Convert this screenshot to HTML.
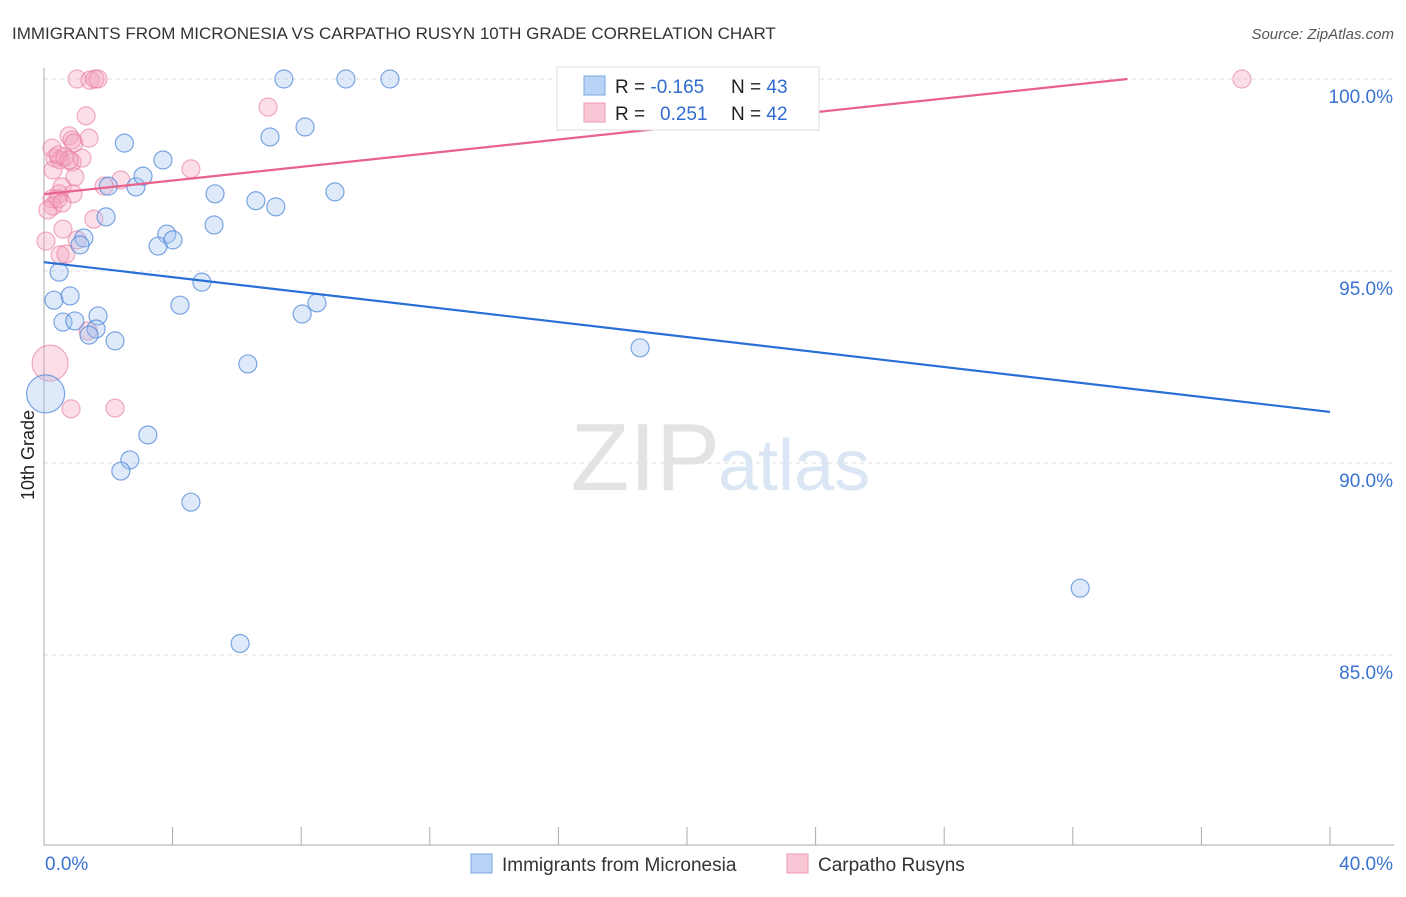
<!DOCTYPE html>
<html><head><meta charset="utf-8">
<style>
body{margin:0;background:#fff;font-family:"Liberation Sans",sans-serif;}
svg text{font-family:"Liberation Sans",sans-serif;}
</style></head>
<body>
<svg id="chart" width="1406" height="892" xmlns="http://www.w3.org/2000/svg">
<text x="12" y="39" font-size="17" fill="#333">IMMIGRANTS FROM MICRONESIA VS CARPATHO RUSYN 10TH GRADE CORRELATION CHART</text>
<text x="1394" y="39" font-size="15" fill="#555" text-anchor="end" font-style="italic">Source: ZipAtlas.com</text>
<g id="grid"></g>
<g id="axes"></g>
<text x="720" y="490" font-size="96" fill="#e3e3e3" text-anchor="end" font-family="Liberation Serif">ZIP</text>
<text x="718" y="490" font-size="72" fill="#dbe6f5">atlas</text>
<g id="points"></g>
<g id="lines"></g>
<text transform="translate(34,455) rotate(-90)" font-size="18" fill="#222" text-anchor="middle">10th Grade</text>
<g>
<rect x="557" y="67" width="262" height="63" fill="#fff" stroke="#ddd"/>
<rect x="584" y="76" width="21" height="19" fill="#b8d3f5" stroke="#7aa7e0"/>
<rect x="584" y="103" width="21" height="19" fill="#f8c6d4" stroke="#ee9ab2"/>
<text x="615" y="93" font-size="19" fill="#222">R = <tspan fill="#2f6bd0">-0.165</tspan><tspan x="731">N = </tspan><tspan fill="#2f6bd0">43</tspan></text>
<text x="615" y="120" font-size="19" fill="#222">R = <tspan x="660" fill="#2f6bd0">0.251</tspan><tspan x="731">N = </tspan><tspan fill="#2f6bd0">42</tspan></text>
</g>
<g>
<rect x="471" y="854" width="21" height="19" fill="#b8d3f5" stroke="#7aa7e0"/>
<text x="502" y="871" font-size="19" fill="#333">Immigrants from Micronesia</text>
<rect x="787" y="854" width="21" height="19" fill="#f8c6d4" stroke="#ee9ab2"/>
<text x="818" y="871" font-size="19" fill="#333">Carpatho Rusyns</text>
</g>
</svg>
<script>
const yTicks=[100,95,90,85];
const yTickLabels=["100.0%","95.0%","90.0%","85.0%"];
const xTickLabels=["0.0%","40.0%"];
const blueX=[2.5,2.0,2.86,3.08,3.7,1.93,1.24,1.12,0.47,0.31,0.81,0.59,0.96,1.68,1.62,1.4,2.21,3.82,3.55,4.01,5.32,5.29,6.59,7.21,7.03,8.12,7.46,9.39,10.76,9.05,4.23,4.91,8.03,8.49,6.34,3.23,2.67,2.39,4.57,6.1,18.54,32.23,0.05];
const blueY=[98.33,97.21,97.19,97.47,97.89,96.41,95.86,95.68,94.97,94.24,94.35,93.67,93.7,93.83,93.49,93.33,93.18,95.96,95.65,95.81,97.01,96.2,96.83,96.67,98.49,98.75,100,100,100,97.06,94.11,94.71,93.88,94.17,92.58,90.73,90.08,89.79,88.98,85.3,93.0,86.74,91.8];
const blueR=[9,9,9,9,9,9,9,9,9,9,9,9,9,9,9,9,9,9,9,9,9,9,9,9,9,9,9,9,9,9,9,9,9,9,9,9,9,9,9,9,9,9,19];
const pinkX=[1.03,1.43,1.59,1.68,6.97,1.31,37.26,0.78,0.87,0.25,0.93,1.4,0.34,0.5,0.65,0.44,0.87,0.28,0.96,2.39,1.87,4.57,0.56,0.47,0.9,0.25,0.28,0.12,0.44,1.55,0.59,1.03,0.06,0.5,0.68,1.37,0.84,2.21,0.19,1.18,0.78,0.56];
const pinkY=[100,99.97,100,100,99.27,99.04,100,98.52,98.41,98.2,98.33,98.46,97.94,97.89,97.97,98.02,97.84,97.63,97.45,97.37,97.21,97.66,97.19,97.01,97.01,96.88,96.69,96.59,96.88,96.35,96.09,95.81,95.78,95.42,95.44,93.44,91.41,91.43,92.6,97.94,97.89,96.77];
const pinkR=[9,9,9,9,9,9,9,9,9,9,9,9,9,9,9,9,9,9,9,9,9,9,9,9,9,9,9,9,9,9,9,9,9,9,9,9,9,9,18,9,9,9];
const blueLineX=[0,40];
const blueLineY=[95.23,91.33];
const pinkLineX=[0,33.7];
const pinkLineY=[97.0,100];

const NS="http://www.w3.org/2000/svg";
const xs=v=>44+v/40*1286;
const ys=v=>79+(100-v)*38.4;
function mk(tag,attrs,parent){const e=document.createElementNS(NS,tag);for(const k in attrs)e.setAttribute(k,attrs[k]);document.getElementById(parent).appendChild(e);return e;}

yTicks.forEach((t,i)=>{
  const g=mk('line',{x1:44,x2:1394,y1:ys(t),y2:ys(t),stroke:'#ddd','stroke-dasharray':'4,4'},'grid');
  
  
  const tx=mk('text',{x:1393,y:ys(t)+24,'font-size':19,fill:'#3b73d1','text-anchor':'end'},'axes');
  tx.textContent=yTickLabels[i];
  
  
});
const ax=mk('line',{x1:44,x2:44,y1:68,y2:845,stroke:'#aaa'},'axes');


const bx=mk('line',{x1:44,x2:1394,y1:845,y2:845,stroke:'#aaa'},'axes');


for(let i=0;i<=10;i++){
  const t=mk('line',{x1:xs(i*4),x2:xs(i*4),y1:827,y2:845,stroke:'#aaa'},'axes');
  
  
}
[[0,'start',45],[40,'end',1393]].forEach((d,i)=>{
  const tx=mk('text',{x:d[2],y:870,'font-size':19,fill:'#3b73d1','text-anchor':d[1]},'axes');
  tx.textContent=xTickLabels[i];
  
  
});
pinkX.forEach((v,i)=>{
  const c=mk('circle',{cx:xs(v),cy:ys(pinkY[i]),r:pinkR[i],fill:'rgba(244,160,188,0.35)',stroke:'rgba(232,120,155,0.6)','stroke-width':1.2},'points');
  
  
});
blueX.forEach((v,i)=>{
  const c=mk('circle',{cx:xs(v),cy:ys(blueY[i]),r:blueR[i],fill:'rgba(160,195,240,0.35)',stroke:'rgba(70,130,215,0.7)','stroke-width':1.2},'points');
  
  
});
const bl=mk('line',{x1:xs(blueLineX[0]),y1:ys(blueLineY[0]),x2:xs(blueLineX[1]),y2:ys(blueLineY[1]),stroke:'#2a6fd6','stroke-width':2.2},'lines');


const pl=mk('line',{x1:xs(pinkLineX[0]),y1:ys(pinkLineY[0]),x2:xs(pinkLineX[1]),y2:ys(pinkLineY[1]),stroke:'#e8628d','stroke-width':2.2},'lines');


</script>
</body></html>
